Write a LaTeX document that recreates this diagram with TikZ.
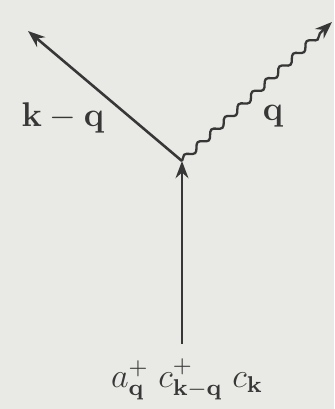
\documentclass[tikz,border=0pt]{standalone}
\usetikzlibrary{arrows.meta,decorations.pathmorphing}
\definecolor{paper}{RGB}{233,233,229}
\definecolor{ink}{RGB}{55,55,55}
\begin{document}
\begin{tikzpicture}[x=0.35pt,y=-0.35pt,
  prop/.style={draw=ink,line width=0.9pt,-{Stealth[length=6pt,width=4.5pt]}},
  photon/.style={draw=ink,line width=0.8pt,decorate,decoration={snake,amplitude=1.1pt,segment length=6.5pt,post length=5pt},-{Stealth[length=6pt,width=4.5pt]}},
  lab/.style={text=ink,inner sep=0pt,font=\fontsize{11.5}{14}\selectfont}]
\fill[paper] (0,0) rectangle (334,409);
\useasboundingbox (0,0) rectangle (334,409);
\coordinate (v) at (182,161);
\coordinate (bot) at (182,344);
\coordinate (lt) at (28,31);
\coordinate (rt) at (332,22);
\draw[prop] (v) -- (lt);
\draw[photon] (v) -- (rt);
\draw[prop] (bot) -- (v);
\node[lab] (lk) at (63,118) {$\mathbf{k}-\mathbf{q}$};
\node[lab] (lq) at (273,116) {$\mathbf{q}$};
\node[lab,anchor=base] (ops) at (187,387) {$a^{+}_{\mathbf q}\;c^{+}_{\mathbf k-\mathbf q}\;c_{\mathbf k}$};
\end{tikzpicture}
\end{document}
